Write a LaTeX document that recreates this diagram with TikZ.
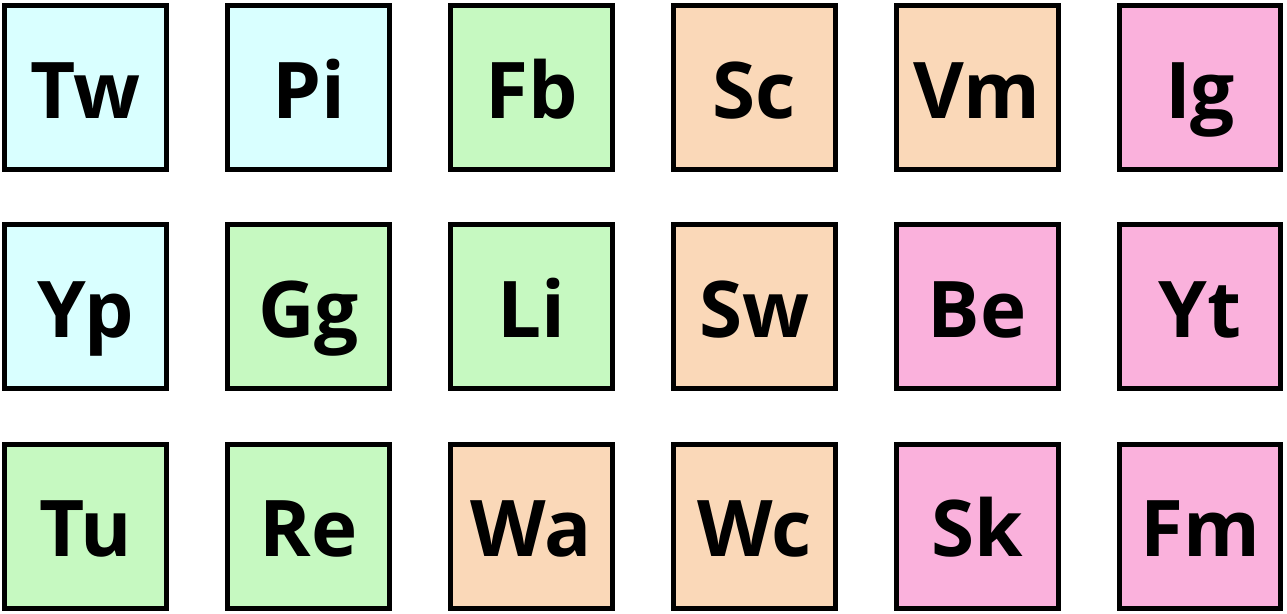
\documentclass[tikz,border=0pt]{standalone}
\usepackage{fontspec}
\setmainfont{Open Sans}
\usepackage{tikz}
\definecolor{tilecyan}{RGB}{217,255,255}
\definecolor{tilegreen}{RGB}{198,249,193}
\definecolor{tilepeach}{RGB}{250,216,184}
\definecolor{tilepink}{RGB}{250,177,220}
\tikzset{
  tile/.style={draw=black, line width=0.1cm, minimum width=3.234cm, minimum height=3.28cm,
    inner sep=0pt, text height=35pt, text depth=0pt,
    font=\fontsize{44.5}{50}\selectfont\bfseries},
  cyantile/.style={tile, fill=tilecyan},
  greentile/.style={tile, fill=tilegreen},
  peachtile/.style={tile, fill=tilepeach},
  pinktile/.style={tile, fill=tilepink}
}

\begin{document}
\begin{tikzpicture}[x=0.02cm, y=-0.02cm]
			%%%%% START %%%%%
			\useasboundingbox[fill=white] (0, 0) rectangle (1287, 613);
			
			% top row
			\node[cyantile]  (tw) at (85.6, 87.5) {Tw};
			\node[cyantile]  (pi) at (308.5, 87.5) {Pi};
			\node[greentile] (fb) at (531.4, 87.5) {Fb};
			\node[peachtile] (sc) at (754.3, 87.5) {Sc};
			\node[peachtile] (vm) at (977.2, 87.5) {Vm};
			\node[pinktile]  (ig) at (1200.1, 87.5) {Ig};
			
			% middle row
			\node[cyantile]  (yp) at (85.6, 306.8) {Yp};
			\node[greentile] (gg) at (308.5, 306.8) {Gg};
			\node[greentile] (li) at (531.4, 306.8) {Li};
			\node[peachtile] (sw) at (754.3, 306.8) {Sw};
			\node[pinktile]  (be) at (977.2, 306.8) {Be};
			\node[pinktile]  (yt) at (1200.1, 306.8) {Yt};
			
			% bottom row
			\node[greentile] (tu) at (85.6, 526.1) {Tu};
			\node[greentile] (re) at (308.5, 526.1) {Re};
			\node[peachtile] (wa) at (531.4, 526.1) {Wa};
			\node[peachtile] (wc) at (754.3, 526.1) {Wc};
			\node[pinktile]  (sk) at (977.2, 526.1) {Sk};
			\node[pinktile]  (fm) at (1200.1, 526.1) {Fm};
			%%%%% END %%%%%
\end{tikzpicture}
\end{document}
